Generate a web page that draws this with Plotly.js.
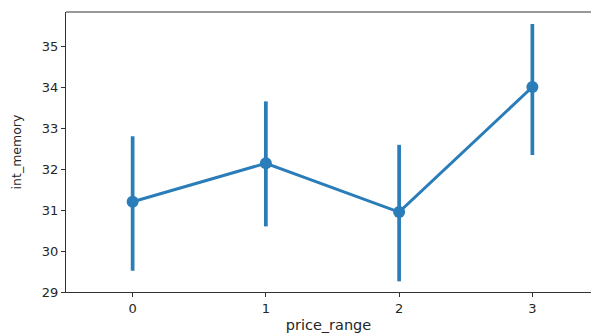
<!DOCTYPE html>
<html>
<head>
<meta charset="utf-8">
<script src="https://cdn.plot.ly/plotly-3.0.1.min.js"></script>
<style>html,body{margin:0;padding:0;background:#fff;overflow:hidden}#chart{width:591px;height:333px}</style>
</head>
<body>
<div id="chart"></div>
<script>
const categories = [0, 1, 2, 3];
const meanValues = [31.20, 32.14, 30.95, 34.00];
const ciUpper = [32.80, 33.65, 32.59, 35.54];
const ciLower = [29.52, 30.60, 29.26, 32.34];

const color = '#2a7db8';
const trace = {
  x: categories,
  y: meanValues,
  type: 'scatter',
  mode: 'lines+markers',
  line: {color: color, width: 3},
  marker: {color: color, size: 12},
  error_y: {
    type: 'data',
    symmetric: false,
    array: ciUpper.map((v, i) => v - meanValues[i]),
    arrayminus: meanValues.map((v, i) => v - ciLower[i]),
    color: color,
    thickness: 3.7,
    width: 0
  },
  hoverinfo: 'none'
};

const tickFont = {family: 'DejaVu Sans, sans-serif', size: 13, color: '#262626'};
const layout = {
  width: 591, height: 333,
  margin: {l: 66, r: 0, t: 12, b: 41},
  paper_bgcolor: '#fff', plot_bgcolor: '#fff',
  showlegend: false,
  xaxis: {
    range: [-0.5, 3.44],
    tickvals: categories,
    ticktext: categories.map(String),
    showgrid: false, zeroline: false,
    showline: true, linecolor: '#333', linewidth: 1,
    ticks: 'outside', ticklen: 4, tickcolor: '#333',
    tickfont: tickFont,
    title: {text: 'price_range', font: {family: 'DejaVu Sans, sans-serif', size: 14.5, color: '#262626'}, standoff: 10}
  },
  yaxis: {
    range: [29, 35.83],
    tickvals: [29, 30, 31, 32, 33, 34, 35],
    showgrid: false, zeroline: false,
    showline: true, linecolor: '#333', linewidth: 1,
    ticks: 'outside', ticklen: 4, tickcolor: '#333',
    tickfont: tickFont,
    title: {text: 'int_memory', font: {family: 'DejaVu Sans, sans-serif', size: 12.5, color: '#262626'}, standoff: 17}
  },
  shapes: [{type: 'line', xref: 'paper', yref: 'paper', x0: 0, x1: 1, y0: 1, y1: 1, line: {color: '#333', width: 1}}]
};

Plotly.newPlot('chart', [trace], layout, {staticPlot: true, displayModeBar: false});
</script>
</body>
</html>
